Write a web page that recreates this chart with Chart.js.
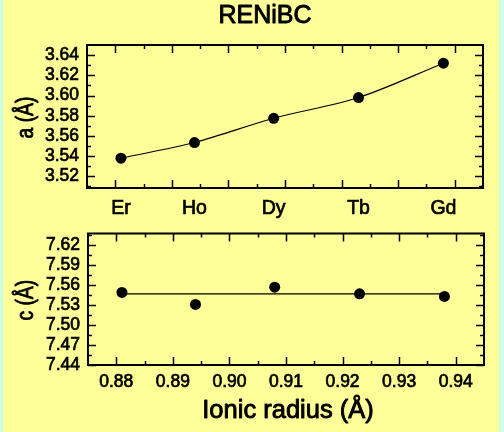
<!DOCTYPE html>
<html>
<head>
<meta charset="utf-8">
<script src="https://cdn.jsdelivr.net/npm/chart.js@4.4.1/dist/chart.umd.min.js"></script>
<style>
  html, body { margin: 0; padding: 0; }
  body { width: 504px; height: 432px; background: #ccffe6; position: relative; overflow: hidden; }
  #panel { position: absolute; left: 3px; top: 0; width: 496px; height: 432px; background: #ffff99; }
  canvas { position: absolute; left: 0; }
  #cTop { top: 0; }
  #cBot { top: 215px; }
</style>
</head>
<body>
<div id="panel"></div>
<canvas id="cTop" width="504" height="228"></canvas>
<canvas id="cBot" width="504" height="217"></canvas>
<script>
// ---- data ----
const elements    = ['Er', 'Ho', 'Dy', 'Tb', 'Gd'];
const ionicRadius = [0.881, 0.894, 0.908, 0.923, 0.938];
const aValues     = [3.538, 3.5535, 3.5775, 3.598, 3.632];
const cValues     = [7.549, 7.531, 7.557, 7.547, 7.543];
const cFit        = 7.547;
const radiusTicks = [0.88, 0.89, 0.90, 0.91, 0.92, 0.93, 0.94];
const aTicks      = [3.52, 3.54, 3.56, 3.58, 3.60, 3.62, 3.64];
const cTicks      = [7.44, 7.47, 7.50, 7.53, 7.56, 7.59, 7.62];
const titleText   = 'RENiBC';
const xTitle      = 'Ionic radius (Å)';
const aTitle      = 'a (Å)';
const cTitle      = 'c (Å)';

const FONT = '"Liberation Sans", Arial, sans-serif';

function minorOf(major, min, max) {
  const step = major[1] - major[0];
  const out = [];
  for (let i = -2; i < major.length + 2; i++) {
    const v = major[0] + (i + 0.5) * step;
    if (v > min + 1e-9 && v < max - 1e-9) out.push(v);
  }
  return out;
}

function heavyText(ctx, text, x, y, size) {
  ctx.font = size + 'px ' + FONT;
  ctx.fillStyle = '#000';
  ctx.strokeStyle = '#000';
  ctx.lineWidth = 0.9;
  ctx.lineJoin = 'round';
  ctx.fillText(text, x, y);
  ctx.strokeText(text, x, y);
}

const frameTicks = {
  id: 'frameTicks',
  afterDatasetsDraw(chart, args, o) {
    const { ctx, chartArea: { left, right, top, bottom }, scales: { x, y } } = chart;
    ctx.save();
    ctx.strokeStyle = '#000';
    ctx.lineWidth = 1.5;
    const seg = (x1, y1, x2, y2) => { ctx.beginPath(); ctx.moveTo(x1, y1); ctx.lineTo(x2, y2); ctx.stroke(); };
    const xs = [[o.xMajor, 8], [minorOf(o.xMajor, x.min, x.max), 4]];
    xs.forEach(([vals, len]) => vals.forEach(v => {
      const p = Math.round(x.getPixelForValue(v)) + 0.5;
      seg(p, bottom, p, bottom - len);
      seg(p, top, p, top + len);
    }));
    const ys = [[o.yMajor, 8], [minorOf(o.yMajor, y.min, y.max), 4]];
    ys.forEach(([vals, len]) => vals.forEach(v => {
      const p = Math.round(y.getPixelForValue(v)) + 0.5;
      seg(left, p, left + len, p);
      seg(right, p, right - len, p);
    }));
    ctx.lineWidth = 2;
    ctx.strokeRect(left, top, right - left, bottom - top);

    ctx.textBaseline = 'alphabetic';
    if (o.title) {
      ctx.textAlign = 'center';
      heavyText(ctx, o.title, 265, 23, 25);
    }
    if (o.xTitle) {
      ctx.textAlign = 'center';
      heavyText(ctx, o.xTitle, 288, o.xTitleBaseline, 25.5);
    }
    if (o.yTitle) {
      ctx.save();
      ctx.translate(32.5, (top + bottom) / 2 + 1);
      ctx.rotate(-Math.PI / 2);
      ctx.scale(0.82, 1);
      ctx.textAlign = 'center';
      heavyText(ctx, o.yTitle, 0, 0, 23.5);
      ctx.restore();
    }
    ctx.restore();
  }
};

Chart.defaults.font.family = FONT;
Chart.defaults.color = '#000';

const tickStroke = { textStrokeColor: '#000', textStrokeWidth: 0.7 };

function yScale(min, max, ticks, width) {
  return {
    type: 'linear', position: 'left', min, max,
    grid: { display: false, drawTicks: false },
    border: { display: false },
    afterBuildTicks: s => { s.ticks = ticks.map(v => ({ value: v })); },
    afterFit: s => { s.width = width; },
    ticks: Object.assign({ padding: 8, autoSkip: false, font: { size: 17.5 }, callback: v => Number(v).toFixed(2) }, tickStroke)
  };
}

// ---- top chart: a vs element ----
new Chart(document.getElementById('cTop'), {
  type: 'scatter',
  data: {
    datasets: [{
      data: ionicRadius.map((r, i) => ({ x: r, y: aValues[i] })),
      showLine: true,
      cubicInterpolationMode: 'monotone',
      borderColor: '#000', borderWidth: 1.2,
      pointRadius: 5.5, pointBackgroundColor: '#000', pointBorderColor: '#000', pointBorderWidth: 0
    }]
  },
  options: {
    responsive: false, animation: false, devicePixelRatio: 1,
    layout: { padding: { top: 45, right: 21, left: 0, bottom: 0 } },
    plugins: { legend: { display: false }, tooltip: { enabled: false },
      frameTicks: { xMajor: radiusTicks, yMajor: aTicks, title: titleText, yTitle: aTitle } },
    scales: {
      x: {
        type: 'linear', min: 0.875, max: 0.945,
        grid: { display: false, drawTicks: false }, border: { display: false },
        afterBuildTicks: s => { s.ticks = ionicRadius.map(v => ({ value: v })); },
        afterFit: s => { s.height = 40; },
        ticks: Object.assign({ padding: 9, autoSkip: false, maxRotation: 0, font: { size: 19.5 }, callback: (v, i) => elements[i] }, tickStroke)
      },
      y: yScale(3.5085, 3.65, aTicks, 87)
    }
  },
  plugins: [frameTicks]
});

// ---- bottom chart: c vs ionic radius ----
new Chart(document.getElementById('cBot'), {
  type: 'scatter',
  data: {
    datasets: [{
      data: [{ x: ionicRadius[0], y: cFit }, { x: ionicRadius[ionicRadius.length - 1], y: cFit }],
      showLine: true, borderColor: '#000', borderWidth: 1.2, pointRadius: 0
    }, {
      data: ionicRadius.map((r, i) => ({ x: r, y: cValues[i] })),
      pointRadius: 5.5, pointBackgroundColor: '#000', pointBorderColor: '#000', pointBorderWidth: 0
    }]
  },
  options: {
    responsive: false, animation: false, devicePixelRatio: 1,
    layout: { padding: { top: 8, right: 20, left: 0, bottom: 0 } },
    plugins: { legend: { display: false }, tooltip: { enabled: false },
      frameTicks: { xMajor: radiusTicks, yMajor: cTicks, yTitle: cTitle, xTitle: xTitle, xTitleBaseline: 203 } },
    scales: {
      x: {
        type: 'linear', min: 0.875, max: 0.945,
        grid: { display: false, drawTicks: false }, border: { display: false },
        afterBuildTicks: s => { s.ticks = radiusTicks.map(v => ({ value: v })); },
        afterFit: s => { s.height = 67; },
        ticks: Object.assign({ padding: 7, autoSkip: false, maxRotation: 0, font: { size: 17.5 }, callback: v => Number(v).toFixed(2) }, tickStroke)
      },
      y: yScale(7.44, 7.6376, cTicks, 88)
    }
  },
  plugins: [frameTicks]
});
</script>
</body>
</html>
